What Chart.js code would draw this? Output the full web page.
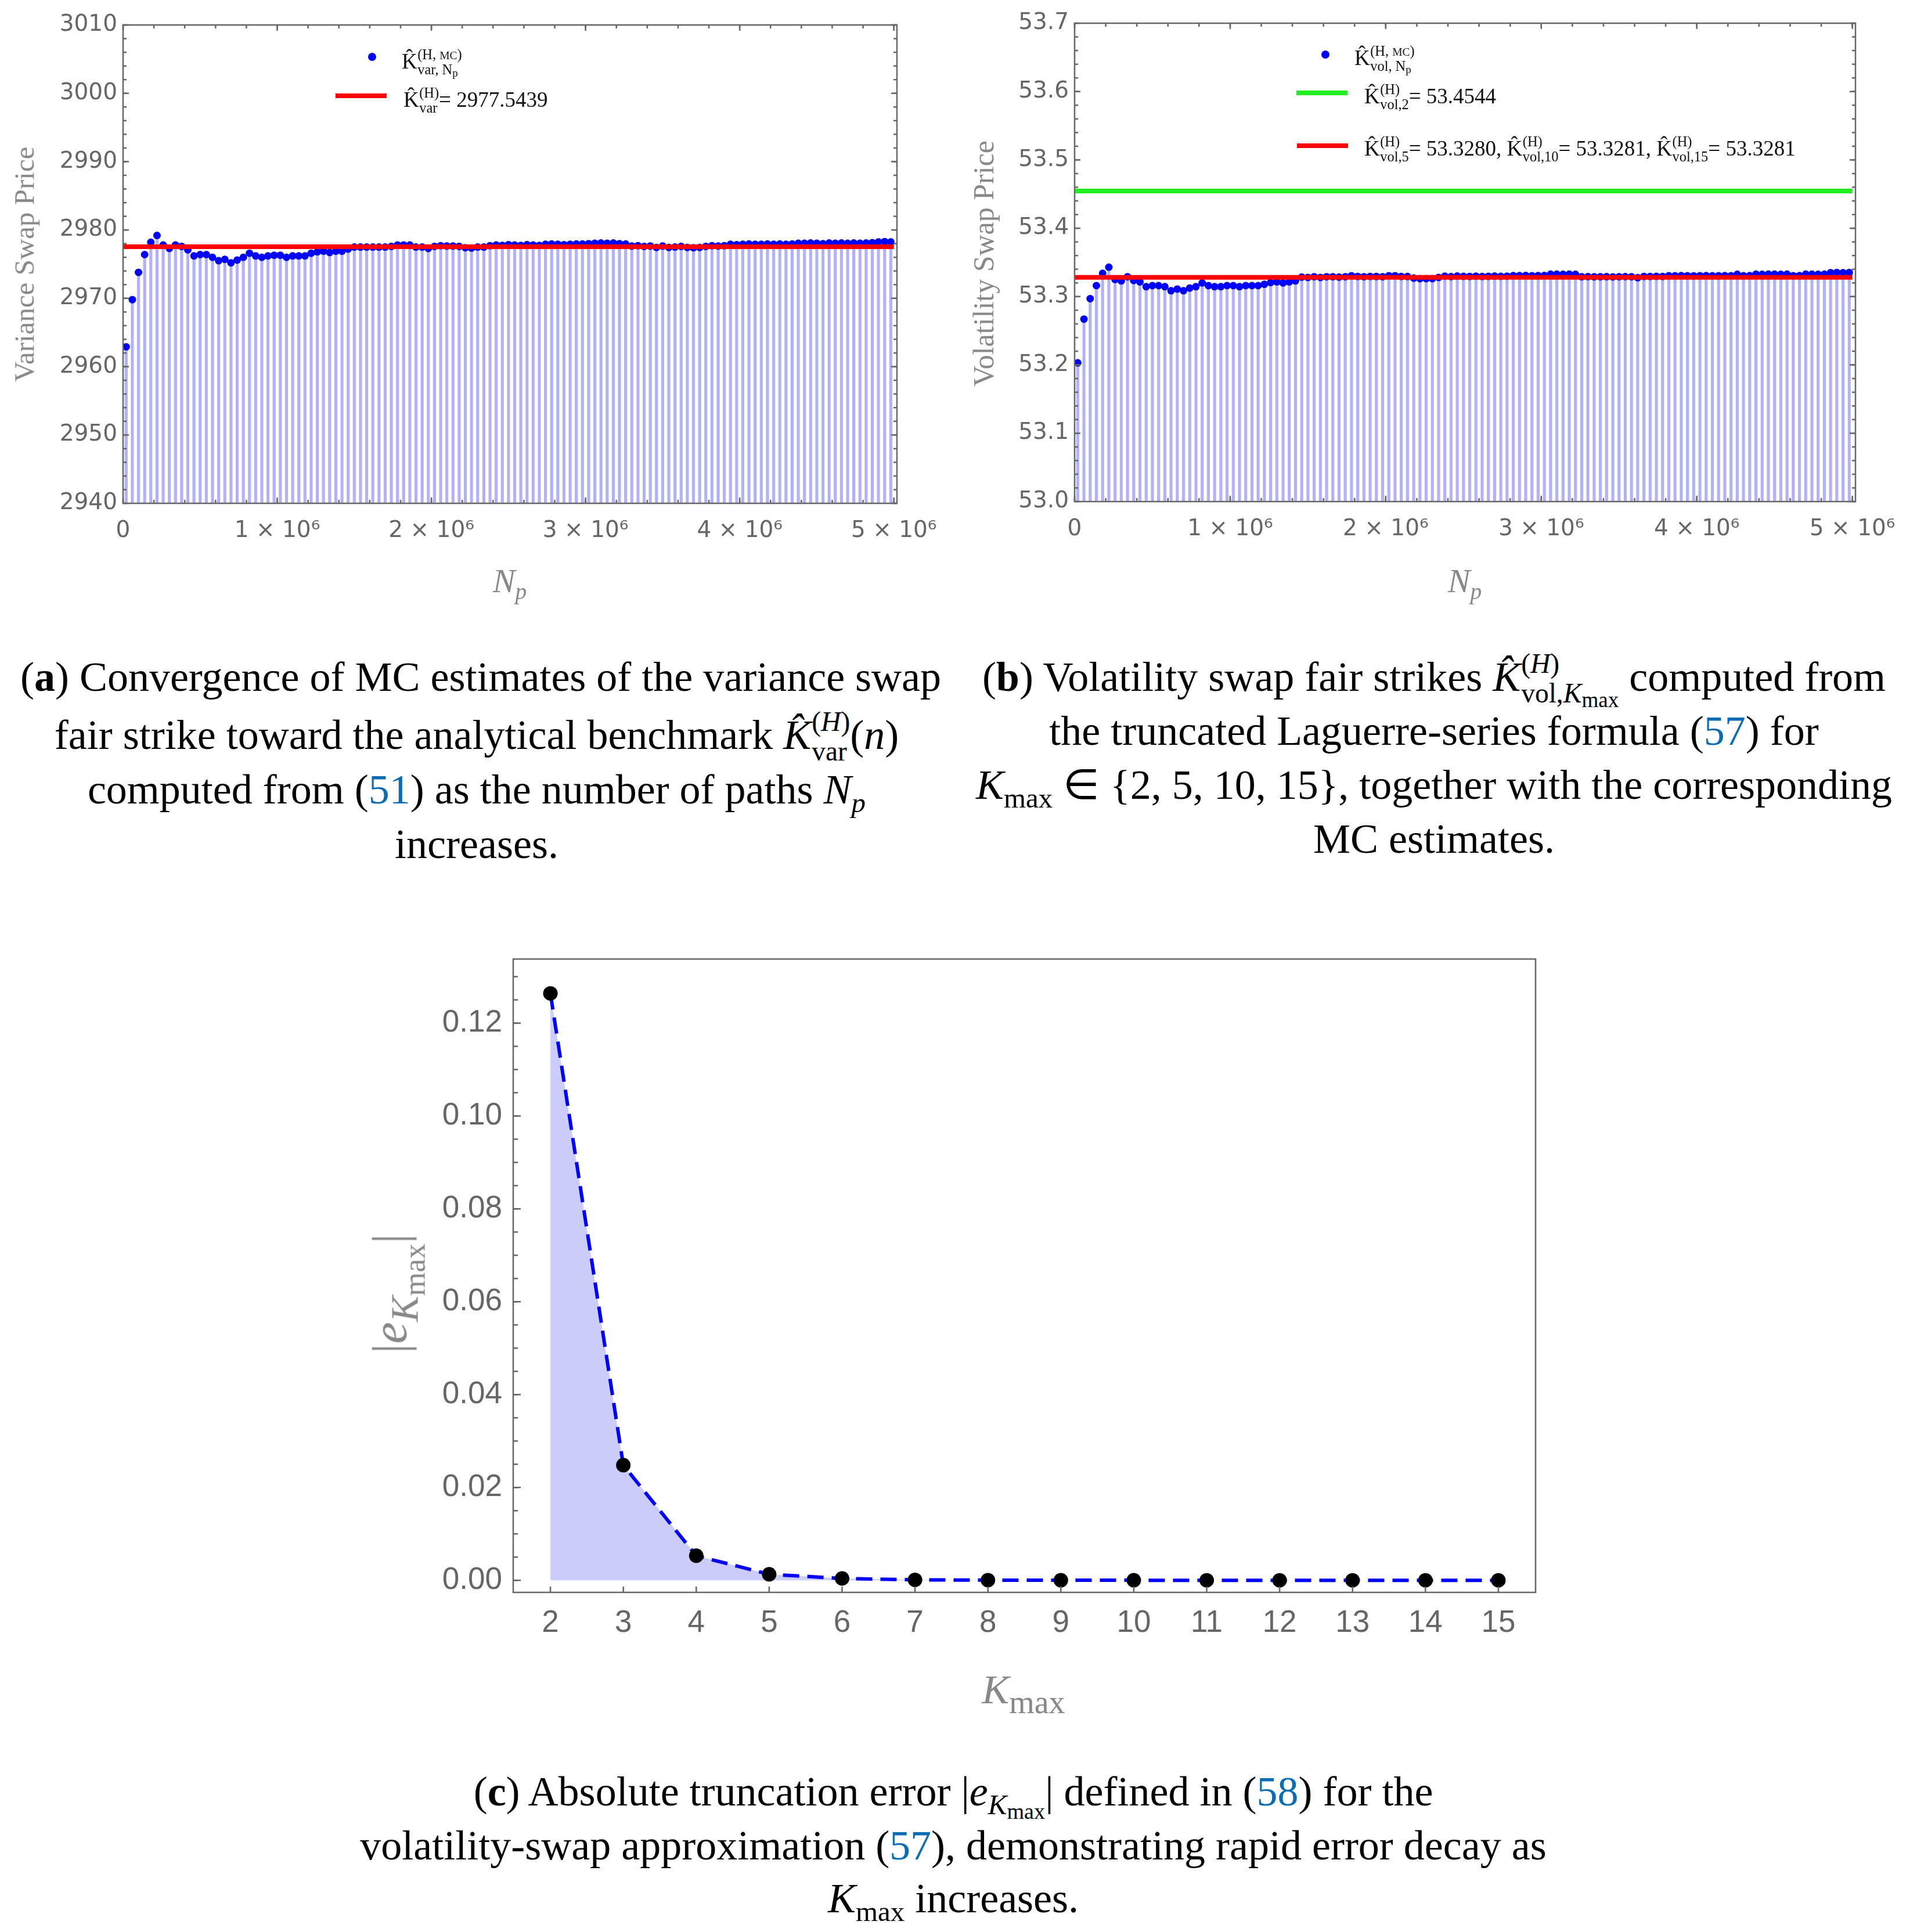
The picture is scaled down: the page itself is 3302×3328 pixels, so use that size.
<!DOCTYPE html>
<html><head><meta charset="utf-8">
<script src="https://cdn.jsdelivr.net/npm/chart.js@4.4.1/dist/chart.umd.min.js"></script>
<style>
html,body{margin:0;padding:0;background:#fff;}
body{width:3302px;height:3328px;position:relative;overflow:hidden;}
canvas{position:absolute;}
.t{position:absolute;left:0;top:0;white-space:nowrap;line-height:1.2;}
.ss{display:inline-block;vertical-align:-0.42em;font-size:0.66em;line-height:1.08;text-align:left;margin-left:0.02em;}
.ss>span{display:block;}
.s2{font-size:0.78em;position:relative;top:0.22em;}
.sb{font-size:0.68em;position:relative;top:0.3em;}
.sbt{font-size:0.8em;position:relative;top:0.3em;}
.lk{color:#0b6db5;}
.sm{font-size:0.8em;}
</style></head>
<body>
<canvas id="ca" width="1640" height="980" style="left:0;top:0"></canvas>
<canvas id="cb" width="1662" height="980" style="left:1640px;top:0"></canvas>
<canvas id="cc" width="2100" height="1300" style="left:600px;top:1600px"></canvas>
<script>
// ---------------- data ----------------
const NP_START = 20000, NP_STEP = 40000;
const VAR_MC = [2962.9,2969.8,2973.8,2976.4,2978.2,2979.2,2977.8,2977.3,2977.8,2977.6,
2977.1,2976.2,2976.4,2976.4,2976.0,2975.5,2975.7,2975.2,2975.6,2976.0,
2976.6,2976.2,2976.0,2976.2,2976.3,2976.3,2976.0,2976.2,2976.2,2976.2,
2976.6,2976.8,2976.9,2976.7,2976.9,2976.9,2977.2,2977.5,2977.5,2977.5,
2977.5,2977.5,2977.5,2977.6,2977.8,2977.8,2977.8,2977.5,2977.5,2977.3,
2977.6,2977.7,2977.65,2977.65,2977.6,2977.4,2977.35,2977.5,2977.5,2977.7,
2977.8,2977.75,2977.85,2977.8,2977.75,2977.85,2977.8,2977.75,2977.9,2977.95,
2977.9,2977.85,2977.9,2977.95,2977.95,2978.0,2978.05,2978.1,2978.05,2978.1,
2978.0,2977.95,2977.65,2977.7,2977.6,2977.65,2977.45,2977.65,2977.45,2977.5,
2977.6,2977.45,2977.4,2977.45,2977.6,2977.7,2977.65,2977.7,2977.9,2977.85,
2977.9,2977.95,2977.9,2977.9,2977.95,2977.9,2977.95,2977.9,2977.95,2978.05,
2978.05,2978.1,2978.05,2978.0,2978.1,2978.05,2978.1,2978.05,2978.1,2978.05,
2978.1,2978.15,2978.25,2978.3,2978.25];
const VOL_MC = [53.203,53.267,53.297,53.316,53.334,53.343,53.325,53.323,53.329,53.3235,
53.3215,53.3145,53.316,53.316,53.3145,53.3085,53.311,53.3085,53.3125,53.3145,
53.320,53.316,53.3145,53.3145,53.316,53.316,53.3145,53.316,53.316,53.316,
53.318,53.3205,53.3215,53.320,53.3215,53.323,53.3285,53.328,53.329,53.328,
53.329,53.329,53.3285,53.329,53.3305,53.3295,53.329,53.3295,53.3295,53.329,
53.3305,53.3305,53.3295,53.3293,53.327,53.3262,53.3262,53.3262,53.328,53.3298,
53.3292,53.3300,53.3296,53.3295,53.3299,53.3294,53.3297,53.3300,53.3296,53.3298,
53.3307,53.3306,53.3308,53.3305,53.3307,53.3309,53.3327,53.3328,53.3326,53.3327,
53.3325,53.329,53.3292,53.3289,53.329,53.3291,53.3288,53.329,53.3292,53.329,
53.3276,53.3295,53.3294,53.3296,53.3295,53.3305,53.3304,53.3306,53.3305,53.3303,
53.3305,53.3306,53.3304,53.3305,53.3306,53.3305,53.3325,53.3305,53.3306,53.3327,
53.3326,53.3328,53.3327,53.3326,53.3327,53.3305,53.3306,53.3327,53.3328,53.3326,
53.3327,53.335,53.3352,53.3349,53.3352];
const NP = VAR_MC.map((_, i) => NP_START + NP_STEP * i);
const KVAR_H = 2977.5439;
const KVOL_2 = 53.4544;
const KVOL_5 = 53.3281;
const KMAX = [2,3,4,5,6,7,8,9,10,11,12,13,14,15];
const ERR = [0.1264,0.0248,0.0053,0.0013,0.0004,0.0001,0.00004,0.00002,0.00001,0.000005,0.000003,0.000002,0.000001,0.0000005];
const XA_TICKS = [0,1e6,2e6,3e6,4e6,5e6];

// ---------------- helpers ----------------
function frame(o){
  return {id:'frame', afterDatasetsDraw(chart){
    const {ctx, chartArea:{left,right,top,bottom}, scales:{x,y}} = chart;
    ctx.save();
    ctx.strokeStyle = '#666'; ctx.lineWidth = o.lw;
    ctx.strokeRect(left, top, right-left, bottom-top);
    const line=(x1,y1,x2,y2)=>{ctx.beginPath();ctx.moveTo(x1,y1);ctx.lineTo(x2,y2);ctx.stroke();};
    const vals=(a,b,s)=>{const r=[];for(let v=a; v<=b+s*1e-6; v+=s) r.push(v); return r;};
    const yMaj = y.ticks.map(t=>t.value), xMaj = x.ticks.map(t=>t.value);
    const yMin = vals(o.yMinFrom, y.max, o.yMinor), xMin = o.xMinor ? vals(o.xMinFrom, x.max, o.xMinor) : [];
    ctx.lineWidth = o.tw;
    const doY=(list,len)=>list.forEach(v=>{const p=y.getPixelForValue(v); if(p<top-1||p>bottom+1) return;
      if(o.left) line(left,p,left+len,p); if(o.right) line(right,p,right-len,p);});
    const doX=(list,len)=>list.forEach(v=>{const p=x.getPixelForValue(v); if(p<left-1||p>right+1) return;
      if(o.bottom) line(p,bottom,p,bottom-len); if(o.top) line(p,top,p,top+len);});
    doY(yMin,o.minLen); doY(yMaj,o.majLen); doX(xMin,o.minLen); doX(xMaj,o.xMajLen||o.majLen);
    ctx.restore();
  }};
}
function fixAxis(size, horiz){
  return function(s){ if(horiz){ s.height=size; } else { s.width=size; }
    s.paddingLeft=0; s.paddingRight=0; s.paddingTop=0; s.paddingBottom=0; };
}
function addText(html, o){
  const d = document.createElement('div');
  d.className = 't';
  d.style.fontSize = o.size+'px';
  d.style.fontFamily = o.family || '"Liberation Serif", serif';
  d.style.color = o.color || '#000';
  if (o.italic) d.style.fontStyle = 'italic';
  d.innerHTML = html + '<span style="display:inline-block;width:0;height:0"></span>';
  document.body.appendChild(d);
  const r = d.getBoundingClientRect();
  const b = d.lastElementChild.getBoundingClientRect();
  if (o.rotate) {
    d.style.left = (o.x - r.width/2)+'px';
    d.style.top = (o.y - r.height/2)+'px';
    d.style.transform = 'rotate(-90deg)';
    return;
  }
  const bl = b.bottom - r.top;
  const left = o.align==='center' ? o.x - r.width/2 : (o.align==='right' ? o.x - r.width : o.x);
  d.style.left = left+'px';
  d.style.top = (o.y - bl)+'px';
}
function addBox(x1,y1,x2,y2,color,radius){
  const d=document.createElement('div');
  d.style.cssText=`position:absolute;left:${x1}px;top:${y1}px;width:${x2-x1}px;height:${y2-y1}px;background:${color};border-radius:${radius||0}px`;
  document.body.appendChild(d);
}
const tickFontAB = {family:'"DejaVu Sans"', size:39};
const sciLabel = v => v===0 ? '0' : (v/1e6)+' × 10⁶';

function mcChart(id, o){
  const pts = NP.map((x,i)=>({x, y:o.data[i]}));
  const ds = o.lines.map(l=>({type:'line', data:[{x:0,y:l.v},{x:5e6,y:l.v}], borderColor:l.c, borderWidth:8,
     pointRadius:0, borderCapStyle:'butt', order:0, tension:0}));
  ds.push({type:'scatter', data:pts, backgroundColor:'#0000ff', borderWidth:0, pointRadius:6.5, order:1});
  ds.push({type:'bar', data:pts, backgroundColor:'rgb(178,178,250)', barThickness:4.5, base:o.ymin, grouped:false, order:2});
  return new Chart(document.getElementById(id), {
    type:'scatter',
    data:{datasets:ds},
    options:{responsive:false, animation:false, devicePixelRatio:1,
      layout:{padding:{left:0, top:o.top, right:o.right, bottom:0}},
      plugins:{legend:{display:false}, tooltip:{enabled:false}},
      scales:{
        x:{type:'linear', min:0, max:5.02e6, offset:false, grid:{display:false, drawTicks:false}, border:{display:false},
           afterBuildTicks:s=>{s.ticks = XA_TICKS.map(v=>({value:v}));},
           ticks:{padding:24, font:tickFontAB, color:'#666', maxRotation:0, autoSkip:false, callback:sciLabel},
           afterFit:fixAxis(o.xh,true)},
        y:{type:'linear', min:o.ymin, max:o.ymax, grid:{display:false, drawTicks:false}, border:{display:false},
           ticks:{stepSize:o.ystep, includeBounds:false, padding:10, font:tickFontAB, color:'#666', callback:o.yfmt},
           afterFit:fixAxis(o.yw,false)}
      }},
    plugins:[frame({lw:2.5, tw:2.5, left:true,right:true,top:true,bottom:true, majLen:10, minLen:6,
      yMinor:o.yminor, yMinFrom:o.ymin, xMinor:2e5, xMinFrom:0})]
  });
}

// ---------------- chart (a) ----------------
mcChart('ca', {data:VAR_MC, lines:[{v:KVAR_H,c:'#ff0000'}], ymin:2940, ymax:3010, ystep:10, yminor:2,
  yfmt:v=>String(Math.round(v)), top:43, right:95, xh:113, yw:212});
// ---------------- chart (b) ----------------
mcChart('cb', {data:VOL_MC, lines:[{v:KVOL_5,c:'#ff0000'},{v:KVOL_2,c:'#22ee22'}], ymin:53.0, ymax:53.7, ystep:0.1, yminor:0.02,
  yfmt:v=>v.toFixed(1), top:40, right:106, xh:116, yw:211});

// ---------------- chart (c) ----------------
new Chart(document.getElementById('cc'), {
  type:'line',
  data:{datasets:[{data:KMAX.map((k,i)=>({x:k,y:ERR[i]})), fill:'origin', backgroundColor:'rgb(204,204,250)',
     borderColor:'#0000ff', borderWidth:6, borderDash:[28,14], tension:0,
     pointRadius:12.5, pointBackgroundColor:'#000', pointBorderWidth:0}]},
  options:{responsive:false, animation:false, devicePixelRatio:1,
    layout:{padding:{left:0, top:52, right:55, bottom:0}},
    plugins:{legend:{display:false}, tooltip:{enabled:false}, filler:{propagate:false}},
    scales:{
      x:{type:'linear', min:1.49, max:15.51, offset:false, grid:{display:false, drawTicks:false}, border:{display:false},
         ticks:{stepSize:1, includeBounds:false, padding:22, font:{family:'"Liberation Sans"', size:53}, color:'#666', maxRotation:0, autoSkip:false},
         afterFit:fixAxis(157,true)},
      y:{type:'linear', min:-0.0026, max:0.1338, grid:{display:false, drawTicks:false}, border:{display:false},
         ticks:{stepSize:0.02, includeBounds:false, padding:19, font:{family:'"Liberation Sans"', size:53}, color:'#666', callback:v=>v.toFixed(2)},
         afterFit:fixAxis(284,false)}
    }},
  plugins:[frame({lw:2.5, tw:2.5, left:true, right:false, top:false, bottom:true, majLen:13, minLen:8, xMajLen:10,
    yMinor:0.005, yMinFrom:0, xMinor:0})]
});

// ---------------- text: axis titles ----------------
const GRAY = '#888';
addText('N<span class="sb">p</span>', {x:878, y:1020, align:'center', size:58, italic:true, color:GRAY});
addText('N<span class="sb">p</span>', {x:2523, y:1020, align:'center', size:58, italic:true, color:GRAY});
addText('Variance Swap Price', {x:43, y:455, size:49, color:GRAY, rotate:true});
addText('Volatility Swap Price', {x:1694, y:454, size:50, color:GRAY, rotate:true});
addText('K<span class="sbt" style="font-style:normal">max</span>', {x:1763, y:2934, align:'center', size:70, italic:true, color:GRAY});
addText('|<i>e</i><span class="sbt"><i>K</i><span class="s2">max</span></span>|', {x:672, y:2228, size:84, color:GRAY, rotate:true});

// ---------------- legends ----------------
const LEG = 37;
addBox(634, 91, 648, 105, '#0000ff', 7);
addText('K&#770;<span class="ss"><span>(H, <span class="sm">MC</span>)</span><span>var, N<span class="s2">p</span></span></span>', {x:692, y:118, size:LEG, color:'#111'});
addBox(578, 161, 666, 169, '#ff0000');
addText('K&#770;<span class="ss"><span>(H)</span><span>var</span></span>= 2977.5439', {x:695, y:184, size:LEG, color:'#111'});

addBox(2276, 87, 2290, 101, '#0000ff', 7);
addText('K&#770;<span class="ss"><span>(H, <span class="sm">MC</span>)</span><span>vol, N<span class="s2">p</span></span></span>', {x:2333, y:112, size:LEG, color:'#111'});
addBox(2233, 156, 2321, 164, '#22ee22');
addText('K&#770;<span class="ss"><span>(H)</span><span>vol,2</span></span>= 53.4544', {x:2350, y:178, size:LEG, color:'#111'});
addBox(2234, 247, 2322, 255, '#ff0000');
addText('K&#770;<span class="ss"><span>(H)</span><span>vol,5</span></span>= 53.3280, K&#770;<span class="ss"><span>(H)</span><span>vol,10</span></span>= 53.3281, K&#770;<span class="ss"><span>(H)</span><span>vol,15</span></span>= 53.3281', {x:2350, y:268, size:LEG, color:'#111'});

// ---------------- captions ----------------
const CAP = 72;
const capA = [
 '(<b>a</b>) Convergence of MC estimates of the variance swap',
 'fair strike toward the analytical benchmark <i>K&#770;</i><span class="ss"><span>(<i>H</i>)</span><span>var</span></span>(<i>n</i>)',
 'computed from (<span class="lk">51</span>) as the number of paths <i>N</i><span class="sb"><i>p</i></span>',
 'increases.'];
const capAy = [1190, 1290, 1384, 1478];
const capAx = [828, 821, 821, 821];
capA.forEach((h,i)=>addText(h, {x:capAx[i], y:capAy[i], align:'center', size:CAP}));
const capB = [
 '(<b>b</b>) Volatility swap fair strikes <i>K&#770;</i><span class="ss"><span>(<i>H</i>)</span><span>vol,<i>K</i><span class="s2">max</span></span></span> computed from',
 'the truncated Laguerre-series formula (<span class="lk">57</span>) for',
 '<i>K</i><span class="sb">max</span> ∈ {2, 5, 10, 15}, together with the corresponding',
 'MC estimates.'];
const capBy = [1190, 1283, 1376, 1469];
capB.forEach((h,i)=>addText(h, {x:2470, y:capBy[i], align:'center', size:CAP}));
const capC = [
 '(<b>c</b>) Absolute truncation error |<i>e</i><span class="sb"><i>K</i><span class="s2">max</span></span>| defined in (<span class="lk">58</span>) for the',
 'volatility-swap approximation (<span class="lk">57</span>), demonstrating rapid error decay as',
 '<i>K</i><span class="sb">max</span> increases.'];
const capCy = [3110, 3203, 3294];
capC.forEach((h,i)=>addText(h, {x:1642, y:capCy[i], align:'center', size:CAP}));
</script>
</body></html>
